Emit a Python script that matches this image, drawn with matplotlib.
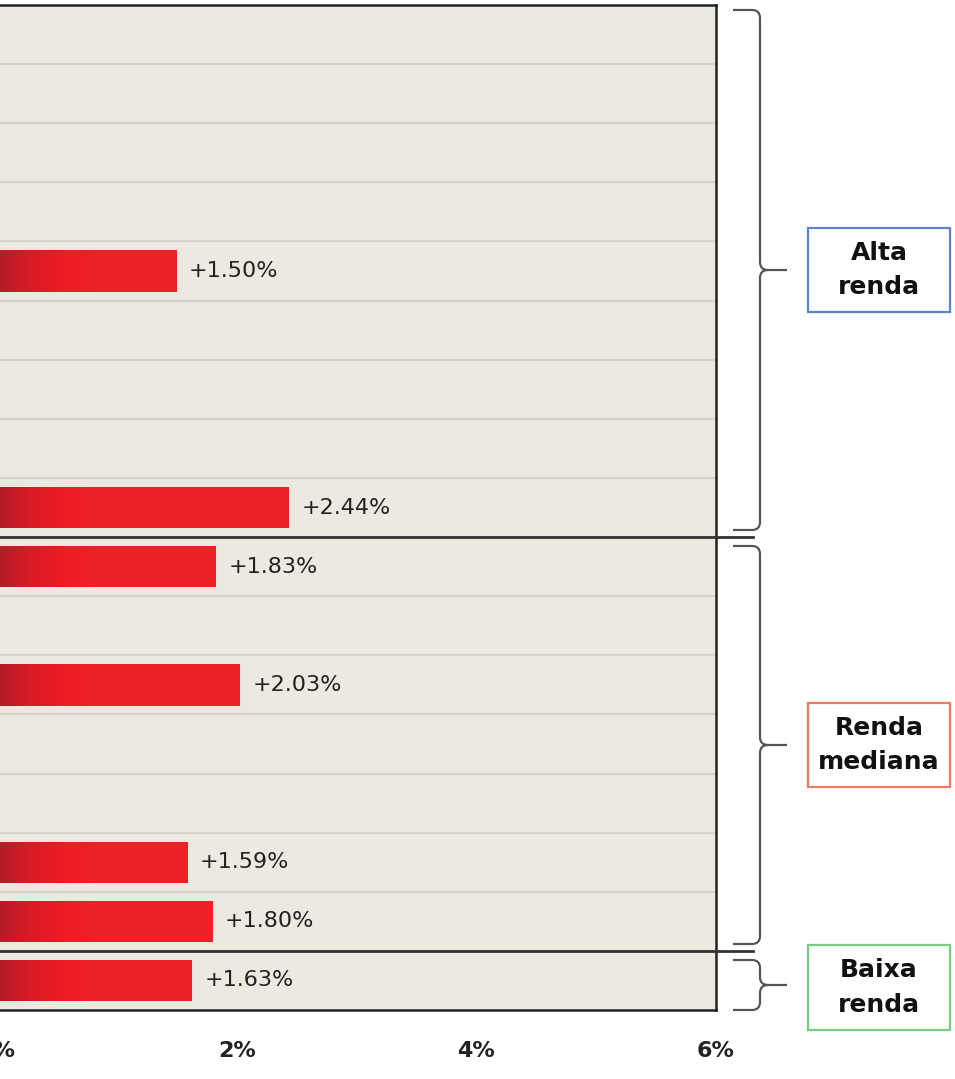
import matplotlib
matplotlib.use("Agg")
import matplotlib.pyplot as plt
import numpy as np
from matplotlib.path import Path
from matplotlib.patches import PathPatch, Rectangle
from matplotlib.colors import LinearSegmentedColormap

# growth per row, top to bottom (rows without a visible bar are nan)
values = [np.nan, np.nan, np.nan, np.nan, 1.50, np.nan, np.nan, np.nan, 2.44,
          1.83, np.nan, 2.03, np.nan, np.nan, 1.59, 1.80,
          1.63]
groups = ["Alta\nrenda", "Renda\nmediana", "Baixa\nrenda"]
group_rows = [(0, 8), (9, 15), (16, 16)]
group_colors = ["#5b86c9", "#f07a5c", "#7ccb85"]
xticks = [0, 2, 4, 6]
xticklabels = ["0%", "2%", "4%", "6%"]

W, H = 955, 1079
fig = plt.figure(figsize=(W / 100, H / 100), dpi=100)
ax = fig.add_axes([-3 / W, 1 - 1010 / H, 719 / W, 1005 / H])

n = len(values)
y = np.arange(n)
ax.set_facecolor("#ecE9e1")

for b in np.arange(0.5, n - 0.5, 1):
    ax.axhline(b, color="#d5d2c8", lw=1.6, zorder=1)

cmap = LinearSegmentedColormap.from_list("red", ["#b01c27", "#d81b26", "#ec1c24", "#ee2126"])
grad = np.linspace(0, 1, 256).reshape(1, -1)
bars = ax.barh(y, np.nan_to_num(values), height=0.7, color="#ee2126", zorder=1.9)
for bar, v, yi in zip(bars, values, y):
    if np.isnan(v):
        continue
    im = ax.imshow(grad, extent=[0, 0.8, yi + 0.35, yi - 0.35], cmap=cmap,
                   aspect="auto", zorder=2, interpolation="bicubic")
    im.set_clip_path(bar)
    ax.text(v + 0.1, yi, f"+{v:.2f}%", va="center", ha="left",
            fontsize=16, color="#222222", zorder=3)
ax.set_xlim(0, 6)
ax.set_ylim(n - 0.5, -0.5)

# group separators extend past the frame
for (a, b) in group_rows[:-1]:
    ax.plot([0, 6 + 37 / 120], [b + 0.5, b + 0.5], color="#333333", lw=2,
            clip_on=False, zorder=4)

for s in ax.spines.values():
    s.set_linewidth(1.8)
    s.set_color("#222222")
ax.set_yticks([])
ax.set_xticks(xticks)
ax.set_xticklabels(xticklabels, fontsize=16, fontweight="bold", color="#222222")
ax.tick_params(axis="x", length=0, pad=22)


def fx(px):
    return px / W


def fy(py):
    return 1 - py / H


def brace(y0, y1, ym, xl=733, xs=760, xt=787, r=8):
    pts = [(xl, y0), (xs - r, y0), (xs, y0), (xs, y0 + r),
           (xs, ym - r), (xs, ym), (xs + r, ym), (xt, ym),
           (xs + r, ym), (xs, ym), (xs, ym + r),
           (xs, y1 - r), (xs, y1), (xs - r, y1), (xl, y1)]
    codes = [Path.MOVETO, Path.LINETO, Path.CURVE3, Path.CURVE3,
             Path.LINETO, Path.CURVE3, Path.CURVE3, Path.LINETO,
             Path.MOVETO, Path.CURVE3, Path.CURVE3,
             Path.LINETO, Path.CURVE3, Path.CURVE3, Path.LINETO]
    verts = [(fx(a), fy(b)) for a, b in pts]
    fig.add_artist(PathPatch(Path(verts, codes), fill=False, edgecolor="#555555",
                             lw=1.6, transform=fig.transFigure))


braces = [(10, 530, 270), (546, 944, 745), (960, 1010, 985)]
boxes = [(228, 312), (703, 787), (945, 1030)]
for g, c, br, bx in zip(groups, group_colors, braces, boxes):
    brace(*br)
    top, bot = bx
    fig.add_artist(Rectangle((fx(808), fy(bot)), fx(950) - fx(808), fy(top) - fy(bot),
                             transform=fig.transFigure, fill=False, edgecolor=c, lw=1.6))
    fig.text(fx(879), fy((top + bot) / 2), g, ha="center", va="center",
             fontsize=18, fontweight="bold", color="#111111", linespacing=1.55)

fig.savefig("out.png", dpi=100)
